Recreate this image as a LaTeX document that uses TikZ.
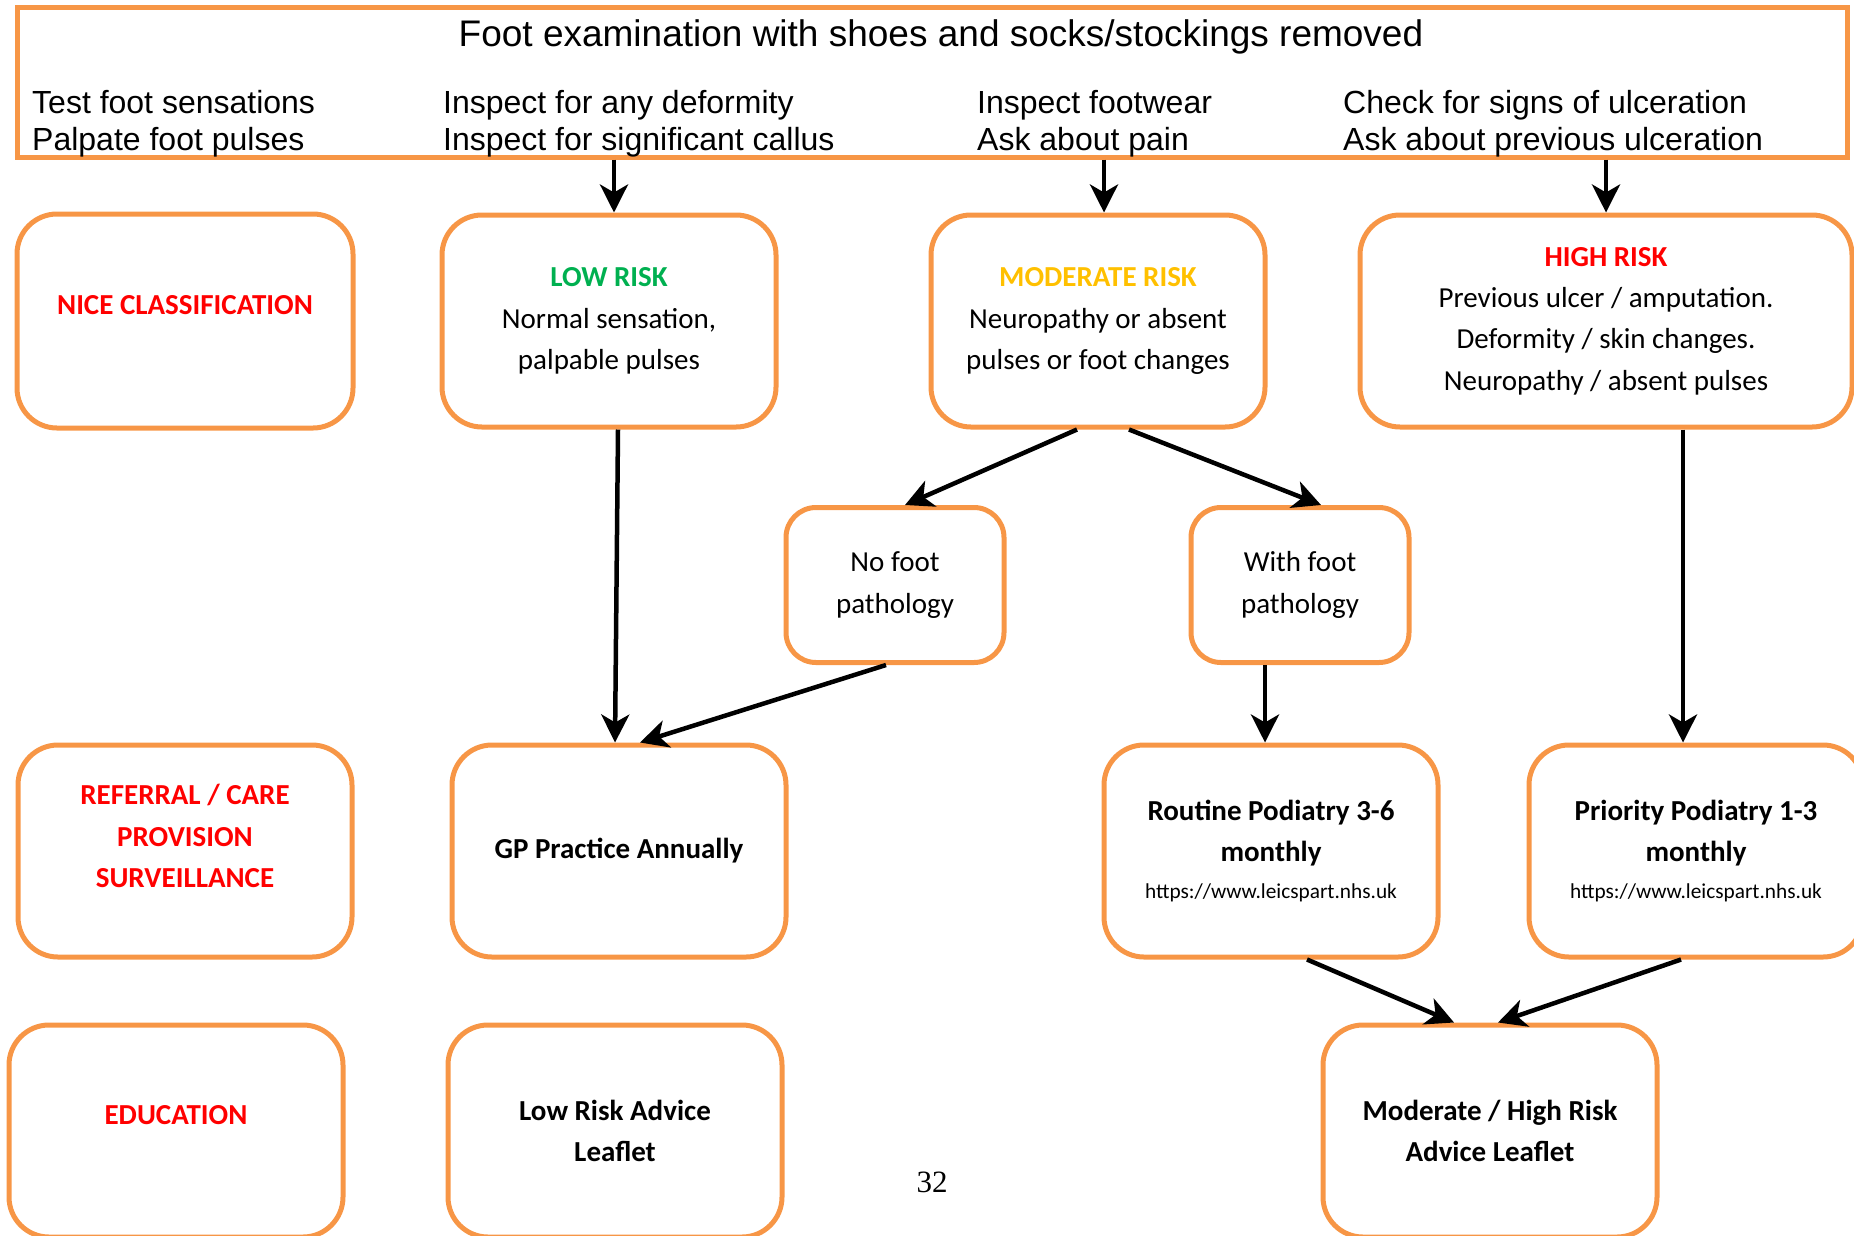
\documentclass[tikz,border=0pt]{standalone}
\usepackage{fontspec}
\setmainfont{Carlito}
\newfontfamily\arialfont{Liberation Sans}
\newfontfamily\timesfont{Liberation Serif}
\usetikzlibrary{arrows.meta}
\definecolor{boxorange}{HTML}{F79646}
\definecolor{riskred}{HTML}{FF0000}
\definecolor{riskgreen}{HTML}{00B050}
\definecolor{riskamber}{HTML}{FFC000}
\tikzset{
	riskbox/.style={draw=boxorange, line width=5pt, rounded corners=40pt, minimum width=334pt, minimum height=212pt, align=center, inner sep=0pt, font=\fontsize{29}{41.4}\selectfont},
	pathbox/.style={riskbox, minimum width=218pt, minimum height=155pt, rounded corners=30pt},
	sidelabel/.style={align=center, text=riskred, inner sep=0pt, font=\fontsize{29}{41.4}\selectfont\bfseries},
	examtext/.style={anchor=west, align=left, inner sep=0pt, font=\arialfont\fontsize{32}{37}\selectfont},
	flow/.style={line width=4.5pt, -{Stealth[length=28pt, width=28pt, inset=8pt]}},
}

\begin{document}
\begin{tikzpicture}[x=1pt, y=-1pt]
	\useasboundingbox (0, 0) rectangle (1854, 1235);
	
	% examination box
	\node[draw=boxorange, line width=5pt, minimum width=1830pt, minimum height=150pt] (exam) at (932, 82) {};
	\node[inner sep=0pt, font=\arialfont\fontsize{37}{44}\selectfont] (title) at (941, 37) {Foot examination with shoes and socks/stockings removed};
	\node[examtext] (colA) at (32, 124) {Test foot sensations\\Palpate foot pulses};
	\node[examtext] (colB) at (443, 124) {Inspect for any deformity\\Inspect for significant callus};
	\node[examtext] (colC) at (977, 124) {Inspect footwear\\Ask about pain};
	\node[examtext] (colD) at (1343, 124) {Check for signs of ulceration\\Ask about previous ulceration};
	
	% classification
	\node[riskbox, minimum width=336pt, minimum height=214pt] (nicebox) at (185, 321) {};
	\node[sidelabel] (nice) at ([yshift=16pt]nicebox.center) {NICE CLASSIFICATION};
	\node[riskbox] (low) at (609, 321) {\textcolor{riskgreen}{\textbf{LOW RISK}}\\Normal sensation,\\palpable pulses};
	\node[riskbox] (mod) at (1098, 321) {\textcolor{riskamber}{\textbf{MODERATE RISK}}\\Neuropathy or absent\\pulses or foot changes};
	\node[riskbox, minimum width=492pt] (high) at (1606, 321) {\textcolor{riskred}{\textbf{HIGH RISK}}\\Previous ulcer / amputation.\\Deformity / skin changes.\\Neuropathy / absent pulses};
	
	\node[pathbox] (nofoot) at (895, 585) {No foot\\pathology};
	\node[pathbox] (withfoot) at (1300, 585) {With foot\\pathology};
	
	% referral
	\node[riskbox] (refbox) at (185, 851) {};
	\node[sidelabel] (referral) at ([yshift=15pt]refbox.center) {REFERRAL / CARE\\PROVISION\\SURVEILLANCE};
	\node[riskbox] (gp) at (619, 851) {\textbf{GP Practice Annually}};
	\node[riskbox] (routine) at (1271, 851) {\textbf{Routine Podiatry 3-6}\\\textbf{monthly}\\[-4pt]{\fontsize{21.3}{25}\selectfont https://www.leicspart.nhs.uk}};
	\node[riskbox] (priority) at (1696, 851) {\textbf{Priority Podiatry 1-3}\\\textbf{monthly}\\[-4pt]{\fontsize{21.3}{25}\selectfont https://www.leicspart.nhs.uk}};
	
	% education
	\node[riskbox] (edubox) at (176, 1131) {};
	\node[sidelabel] (education) at ([yshift=16pt]edubox.center) {EDUCATION};
	\node[riskbox] (lowleaf) at (615, 1131) {\textbf{Low Risk Advice}\\\textbf{Leaflet}};
	\node[riskbox] (modleaf) at (1490, 1131) {\textbf{Moderate / High Risk}\\\textbf{Advice Leaflet}};
	
	\node[inner sep=0pt, font=\timesfont\fontsize{31}{37}\selectfont] (pageno) at (932, 1182) {32};
	
	% arrows
	\draw[flow] ([xshift=5pt]low.north |- exam.south) -- ([xshift=5pt]low.north);
	\draw[flow] ([xshift=6pt]mod.north |- exam.south) -- ([xshift=6pt]mod.north);
	\draw[flow] (high.north |- exam.south) -- (high.north);
	\draw[flow] ([xshift=9pt]low.south) -- ([xshift=-4pt]gp.north);
	\draw[flow] ([xshift=-21pt]mod.south) -- ([xshift=10pt]nofoot.north);
	\draw[flow] ([xshift=31pt]mod.south) -- ([xshift=21pt]withfoot.north);
	\draw[flow] ([xshift=-9pt]nofoot.south) -- ([xshift=21pt]gp.north);
	\draw[flow] ([xshift=-35pt]withfoot.south) -- ([xshift=-6pt]routine.north);
	\draw[flow] ([xshift=77pt]high.south) -- ([xshift=-13pt]priority.north);
	\draw[flow] ([xshift=36pt]routine.south) -- ([xshift=-36pt]modleaf.north);
	\draw[flow] ([xshift=-15pt]priority.south) -- ([xshift=8pt]modleaf.north);
\end{tikzpicture}
\end{document}
